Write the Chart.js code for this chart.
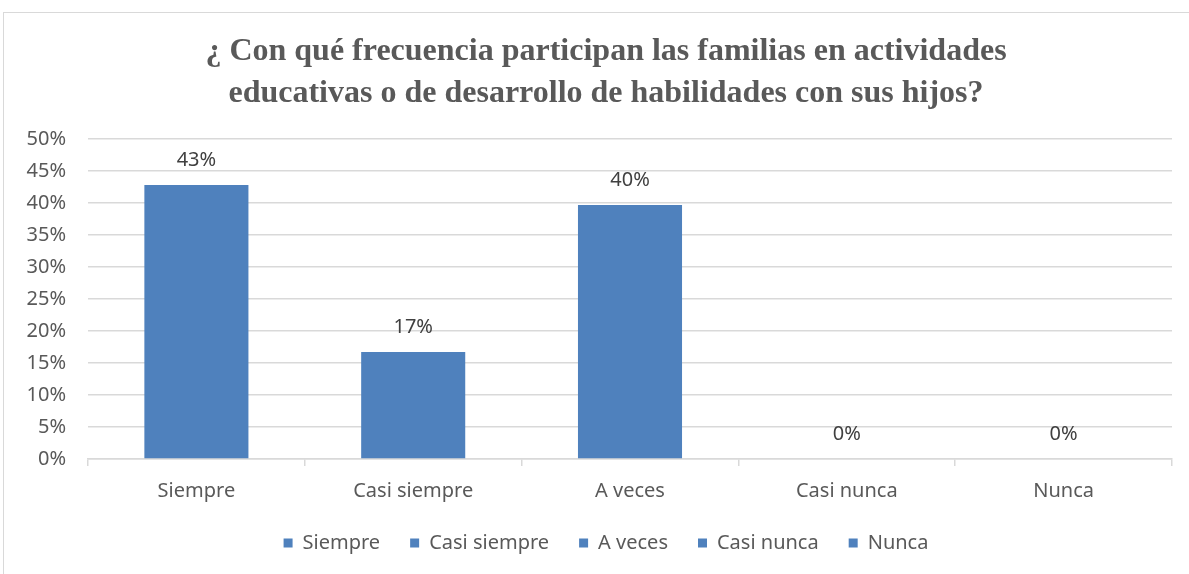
<!DOCTYPE html>
<html>
<head>
<meta charset="utf-8">
<script src="https://cdn.jsdelivr.net/npm/chart.js@4.4.0/dist/chart.umd.min.js"></script>
<style>
  html, body { margin: 0; padding: 0; background: #fff; overflow: hidden; }
  .frame { position: absolute; left: 3px; top: 12px; width: 1200px; height: 600px; border: 1px solid #d9d9d9; }
  .wrap { position: absolute; left: 0; top: 0; width: 1189px; height: 574px; }
</style>
</head>
<body>
<div class="frame"></div>
<div class="wrap"><canvas id="chart" width="1189" height="574"></canvas></div>
<script>
// values
const categories = ['Siempre', 'Casi siempre', 'A veces', 'Casi nunca', 'Nunca'];
const percentages = [42.8, 16.7, 39.7, 0, 0];
const titleLines = ['¿ Con qué frecuencia participan las familias en actividades', 'educativas o de desarrollo de habilidades con sus hijos?'];

const barColor = '#4F81BD';
const textColor = '#595959';
const gridColor = '#d9d9d9';
const uiFont = '"Noto Sans", "Open Sans", sans-serif';

// draws the % value above each bar
const valueLabels = {
  id: 'valueLabels',
  afterDatasetsDraw(chart) {
    const ctx = chart.ctx;
    const meta = chart.getDatasetMeta(0);
    ctx.save();
    ctx.font = '20px ' + uiFont;
    ctx.fillStyle = '#404040';
    ctx.textAlign = 'center';
    ctx.textBaseline = 'middle';
    meta.data.forEach((bar, i) => {
      ctx.fillText(Math.round(percentages[i]) + '%', bar.x, bar.y - 25);
    });
    ctx.restore();
  }
};

new Chart(document.getElementById('chart'), {
  type: 'bar',
  data: {
    labels: categories,
    datasets: [{
      label: 'Serie',
      data: percentages,
      backgroundColor: barColor,
      borderWidth: 0,
      categoryPercentage: 1,
      barPercentage: 0.48
    }]
  },
  options: {
    responsive: false,
    animation: false,
    layout: { padding: { left: 24, right: 1, top: 0, bottom: 11 } },
    plugins: {
      title: {
        display: true,
        text: titleLines,
        color: textColor,
        font: { family: '"Liberation Serif", "Times New Roman", serif', size: 32, weight: 'bold', lineHeight: 1.3125 },
        padding: { top: 31, bottom: 24 }
      },
      legend: {
        position: 'bottom',
        labels: {
          color: textColor,
          font: { family: uiFont, size: 20 },
          usePointStyle: true,
          pointStyle: 'rect',
          boxWidth: 9,
          boxHeight: 9,
          padding: 30,
          generateLabels: () => categories.map(c => ({
            text: c,
            fillStyle: barColor,
            strokeStyle: barColor,
            lineWidth: 0,
            pointStyle: 'rect',
            fontColor: textColor
          }))
        }
      },
      tooltip: { enabled: false }
    },
    scales: {
      y: {
        min: 0,
        max: 50,
        ticks: {
          stepSize: 5,
          color: textColor,
          font: { family: uiFont, size: 20 },
          padding: 22,
          callback: v => v + '%'
        },
        grid: { color: gridColor, lineWidth: 1.5, drawTicks: false },
        border: { display: false },
        afterFit: s => { s.width = 64; }
      },
      // empty right gutter so the title and legend centre like the original
      gutter: {
        position: 'right',
        ticks: { display: false },
        grid: { display: false },
        border: { display: false },
        afterFit: s => { s.width = 16; }
      },
      x: {
        ticks: {
          color: textColor,
          font: { family: uiFont, size: 20 },
          padding: 13
        },
        grid: { color: gridColor, drawOnChartArea: false, drawTicks: true, tickLength: 7, lineWidth: 1.5 },
        border: { color: gridColor, width: 1.5 },
        afterFit: s => { s.height = 44; }
      }
    }
  },
  plugins: [valueLabels]
});
</script>
</body>
</html>
